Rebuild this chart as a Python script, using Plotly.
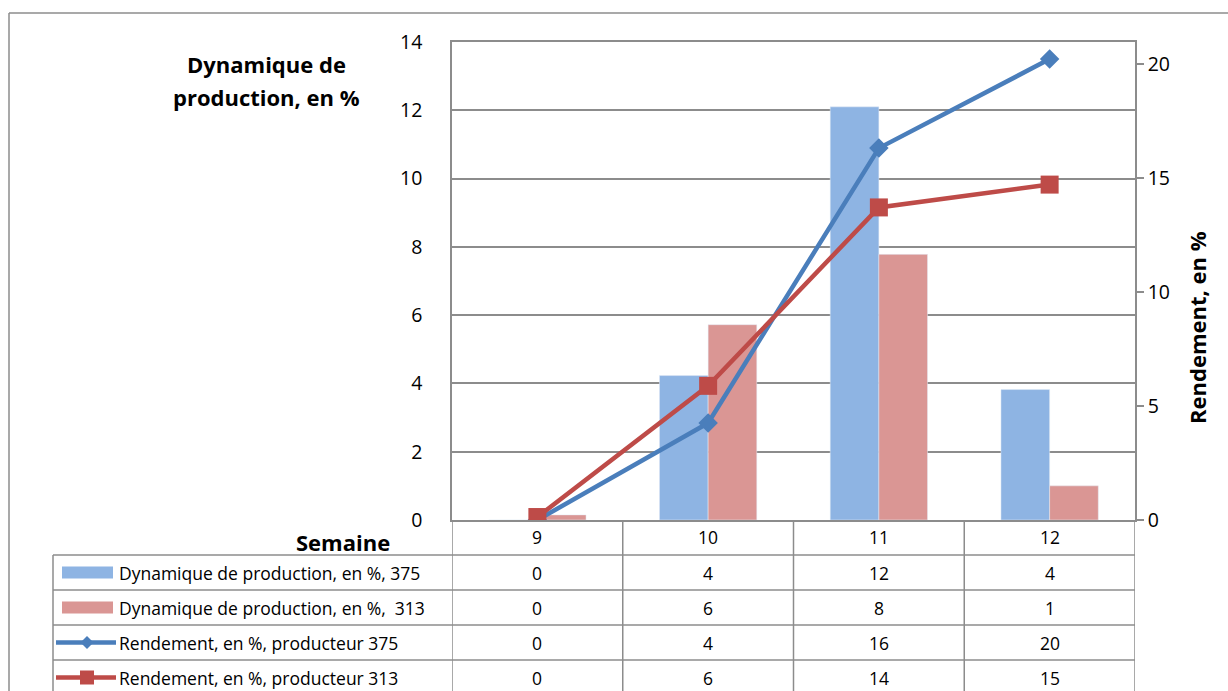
import plotly.graph_objects as go

# ---------------- data ----------------
semaines = [9, 10, 11, 12]
dyn_375 = [0.0, 4.23, 12.1, 3.82]
dyn_313 = [0.15, 5.72, 7.78, 1.0]
rend_375 = [0.0, 4.25, 16.3, 20.2]
rend_313 = [0.13, 5.88, 13.7, 14.7]

series_names = [
    "Dynamique de production, en %, 375",
    "Dynamique de production, en %,\u00a0 313",
    "Rendement, en %, producteur 375",
    "Rendement, en %, producteur 313",
]
table_rows = [dyn_375, dyn_313, rend_375, rend_313]
left_title_lines = ["Dynamique de", "production, en %"]
right_title = "Rendement, en %"
x_title = "Semaine"

# ---------------- style ----------------
W, H = 1228, 691
PL, PR, PT, PB = 452, 1135, 42, 520
FONT = "Open Sans"
BLUE_BAR = "#8EB4E3"
RED_BAR = "#DA9694"
BLUE_LINE = "#4A7EBB"
RED_LINE = "#BE4B48"
GRID = "#8C8C8C"


def xp(px):
    return (px - PL) / (PR - PL)


def yp(py):
    return (PB - py) / (PB - PT)


fig = go.Figure()
fig.add_trace(go.Bar(x=semaines, y=dyn_375, marker_color=BLUE_BAR, name=series_names[0],
                     showlegend=False, yaxis="y"))
fig.add_trace(go.Bar(x=semaines, y=dyn_313, marker_color=RED_BAR, name=series_names[1],
                     showlegend=False, yaxis="y"))
fig.add_trace(go.Scatter(x=semaines, y=rend_375, mode="lines+markers", yaxis="y2",
                         line=dict(color=BLUE_LINE, width=4.5),
                         marker=dict(symbol="diamond", size=15, color=BLUE_LINE),
                         name=series_names[2], showlegend=False))
fig.add_trace(go.Scatter(x=semaines, y=rend_313, mode="lines+markers", yaxis="y2",
                         line=dict(color=RED_LINE, width=4.5),
                         marker=dict(symbol="square", size=18, color=RED_LINE),
                         name=series_names[3], showlegend=False))

shapes = []
annotations = []
LC = dict(color=GRID, width=1.5)

# outer chart border (left & top)
shapes.append(dict(type="line", xref="paper", yref="paper", x0=xp(9), x1=xp(9), y0=yp(13), y1=yp(700),
                   line=LC))
shapes.append(dict(type="line", xref="paper", yref="paper", x0=xp(9), x1=xp(1240), y0=yp(13), y1=yp(13),
                   line=LC))

# table geometry
row_lines = [555, 590, 625, 660, 695]
header_center = 537
row_centers = [572.5, 607.5, 642.5, 677.5]
cat_bounds = [s - 0.5 for s in semaines] + [semaines[-1] + 0.5]

for b in cat_bounds:
    shapes.append(dict(type="line", xref="x", yref="paper", x0=b, x1=b, y0=yp(520), y1=yp(695), line=LC))
shapes.append(dict(type="line", xref="paper", yref="paper", x0=xp(53), x1=xp(53), y0=yp(555), y1=yp(695),
                   line=LC))
for ry in row_lines:
    shapes.append(dict(type="line", xref="paper", yref="paper", x0=xp(53), x1=1, y0=yp(ry), y1=yp(ry),
                       line=LC))

TF = dict(family=FONT, size=17.5, color="black")

for s in semaines:
    annotations.append(dict(x=s, y=yp(header_center), xref="x", yref="paper", text=str(s), showarrow=False,
                            font=TF, xanchor="center", yanchor="middle"))

for vals, rc in zip(table_rows, row_centers):
    for s, v in zip(semaines, vals):
        annotations.append(dict(x=s, y=yp(rc), xref="x", yref="paper", text="{:.0f}".format(v),
                                showarrow=False, font=TF, xanchor="center", yanchor="middle"))

for i, (name, rc) in enumerate(zip(series_names, row_centers)):
    annotations.append(dict(x=xp(117), y=yp(rc), xref="paper", yref="paper", text=name, showarrow=False,
                            font=TF, xanchor="left", yanchor="middle"))
    if i < 2:
        col = BLUE_BAR if i == 0 else RED_BAR
        shapes.append(dict(type="rect", xref="paper", yref="paper", x0=xp(62), x1=xp(113),
                           y0=yp(rc - 6), y1=yp(rc + 6), fillcolor=col, line=dict(width=0)))
    else:
        col = BLUE_LINE if i == 2 else RED_LINE
        shapes.append(dict(type="line", xref="paper", yref="paper", x0=xp(56), x1=xp(116),
                           y0=yp(rc), y1=yp(rc), line=dict(color=col, width=4.5)))
        cx = 87
        if i == 2:
            r = 6.5
            path = "M {} {} L {} {} L {} {} L {} {} Z".format(
                xp(cx - r), yp(rc), xp(cx), yp(rc - r), xp(cx + r), yp(rc), xp(cx), yp(rc + r))
            shapes.append(dict(type="path", xref="paper", yref="paper", path=path, fillcolor=col,
                               line=dict(width=0)))
        else:
            r = 7
            shapes.append(dict(type="rect", xref="paper", yref="paper", x0=xp(cx - r), x1=xp(cx + r),
                               y0=yp(rc - r), y1=yp(rc + r), fillcolor=col, line=dict(width=0)))

BF = dict(family=FONT, size=22, color="black")
for line_text, ly in zip(left_title_lines, [64, 97]):
    annotations.append(dict(x=xp(266), y=yp(ly), xref="paper", yref="paper",
                            text="<b>" + line_text + "</b>", showarrow=False,
                            font=BF, xanchor="center", yanchor="middle"))
annotations.append(dict(x=xp(1197), y=yp(328), xref="paper", yref="paper", text="<b>" + right_title + "</b>",
                        showarrow=False, textangle=-90, font=BF, xanchor="center", yanchor="middle"))
annotations.append(dict(x=xp(392), y=yp(542), xref="paper", yref="paper", text="<b>" + x_title + "</b>",
                        showarrow=False, font=BF, xanchor="right", yanchor="middle"))

fig.update_layout(
    width=W, height=H, autosize=False,
    margin=dict(l=PL, r=W - PR, t=PT, b=H - PB, pad=0),
    paper_bgcolor="white", plot_bgcolor="white",
    barmode="group", bargap=0.43, bargroupgap=0,
    xaxis=dict(range=[semaines[0] - 0.5, semaines[-1] + 0.5], showticklabels=False, showgrid=False,
               zeroline=False, showline=True, mirror=True, linecolor=GRID, linewidth=1.5, ticks=""),
    yaxis=dict(range=[0, 14], dtick=2, tick0=0, showgrid=True, gridcolor=GRID, gridwidth=1.5,
               zeroline=False, showline=True, linecolor=GRID, linewidth=1.5, ticks="",
               ticklabelstandoff=24, tickfont=dict(family=FONT, size=19.5, color="black")),
    yaxis2=dict(range=[0, 20.95], tickvals=[0, 5, 10, 15, 20], overlaying="y", side="right",
                showgrid=False, zeroline=False, showline=True, linecolor=GRID, linewidth=1.5,
                ticks="outside", ticklen=7, tickcolor=GRID, tickwidth=1.5, ticklabelstandoff=0,
                tickfont=dict(family=FONT, size=19.5, color="black")),
    shapes=shapes,
    annotations=annotations,
    showlegend=False,
)

fig.write_html("out.html", config={"displayModeBar": False},
               post_script="document.body.style.margin='0';document.body.style.overflow='hidden';")
